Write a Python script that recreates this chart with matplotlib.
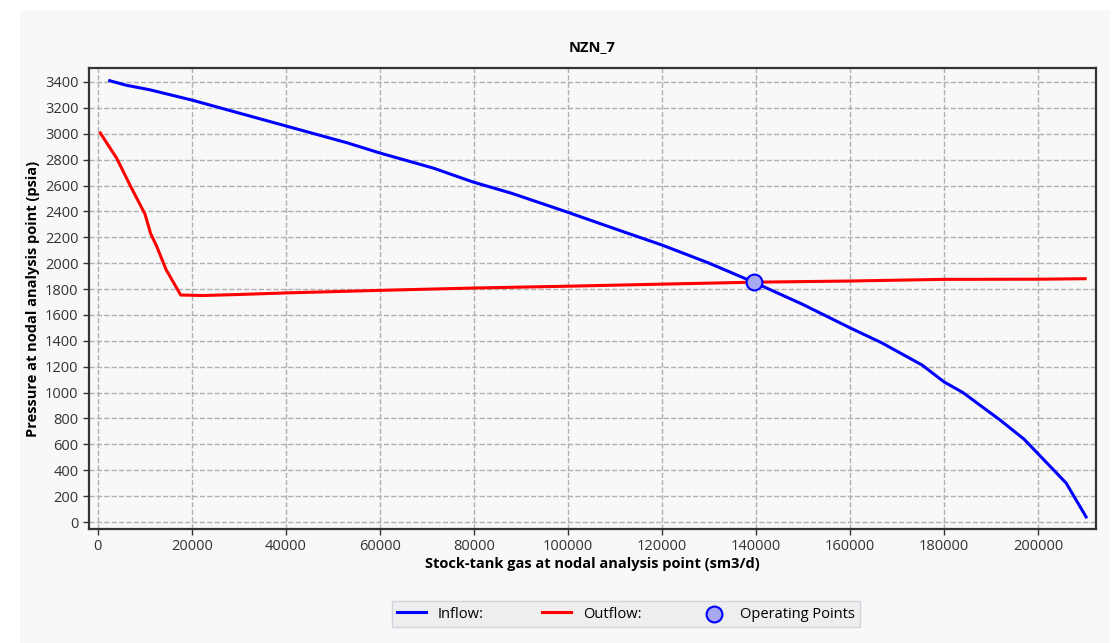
import numpy as np
import matplotlib.pyplot as plt
from matplotlib.patches import Rectangle

plt.rcParams['font.family'] = ['Open Sans', 'DejaVu Sans']

# === Data ===
inflow_q = [2500, 6000, 11000, 20000, 30000, 40000, 53000, 60000, 71300, 79800, 88000,
            99800, 112000, 120000, 130000, 139500, 150000, 159600, 166800, 175300,
            180000, 184000, 191900, 197000, 205950, 210200]
inflow_p = [3410, 3375, 3340, 3260, 3160, 3060, 2930, 2851, 2735, 2627, 2540,
            2395, 2240, 2140, 2000, 1853, 1680, 1507, 1383, 1213,
            1082, 1000, 788, 640, 301, 39]

outflow_q = [500, 4000, 7000, 10000, 11200, 12500, 14500, 17600, 22300, 30000, 40000,
             60000, 80000, 100000, 120000, 139500, 160000, 180000, 200000, 210000]
outflow_p = [3006, 2810, 2590, 2380, 2230, 2130, 1950, 1754, 1750, 1758, 1770,
             1790, 1808, 1822, 1838, 1853, 1862, 1875, 1876, 1880]

op_q = [139500]
op_p = [1853]

x_ticks = np.arange(0, 200001, 20000)
y_ticks = np.arange(0, 3401, 200)

# === Plot ===
fig = plt.figure(figsize=(11.18, 6.43), dpi=100)
fig.patch.set_facecolor('white')
fig.patches.append(Rectangle((20 / 1118, 0), 1090 / 1118, 633 / 643,
                             transform=fig.transFigure, facecolor='#f8f8f8',
                             edgecolor='none', zorder=-10))

ax = fig.add_axes([89 / 1118, 1 - 529 / 643, (1096 - 89) / 1118, (529 - 68) / 643])
ax.set_facecolor('#f8f8f8')

ax.plot(inflow_q, inflow_p, color='#0000ff', linewidth=2.2, label='Inflow:', zorder=3)
ax.plot(outflow_q, outflow_p, color='#ff0000', linewidth=2.2, label='Outflow:', zorder=3)
ax.scatter(op_q, op_p, s=130, facecolor='#a8a8f0', edgecolor='#0000ff', linewidth=1.5,
           label='Operating Points', zorder=4)

ax.set_xlim(-1900, 212300)
ax.set_ylim(-54, 3508)
ax.set_xticks(x_ticks)
ax.set_yticks(y_ticks)
ax.tick_params(labelsize=10.5, colors='#333333', length=4, width=1)
ax.grid(True, color='#b0b0b0', linestyle='--', linewidth=1)
for spine in ax.spines.values():
    spine.set_color('#333333')
    spine.set_linewidth(1.6)

ax.set_title('NZN_7', fontsize=10.5, fontweight='bold', pad=12)
ax.set_xlabel('Stock-tank gas at nodal analysis point (sm3/d)', fontsize=10.5,
              fontweight='bold', labelpad=2)
ax.set_ylabel('Pressure at nodal analysis point (psia)', fontsize=10.5,
              fontweight='bold', labelpad=4)

leg = fig.legend(loc='center', bbox_to_anchor=(626 / 1118, 1 - 614 / 643), ncol=3,
                 fontsize=10.5, frameon=True, fancybox=False, columnspacing=4.0,
                 handlelength=2.0, handletextpad=0.8, borderpad=0.35)
leg.get_frame().set_facecolor('#eeeeee')
leg.get_frame().set_edgecolor('#d4d4e0')
leg.get_frame().set_alpha(1)

fig.savefig('out.png', dpi=100, facecolor=fig.get_facecolor())
